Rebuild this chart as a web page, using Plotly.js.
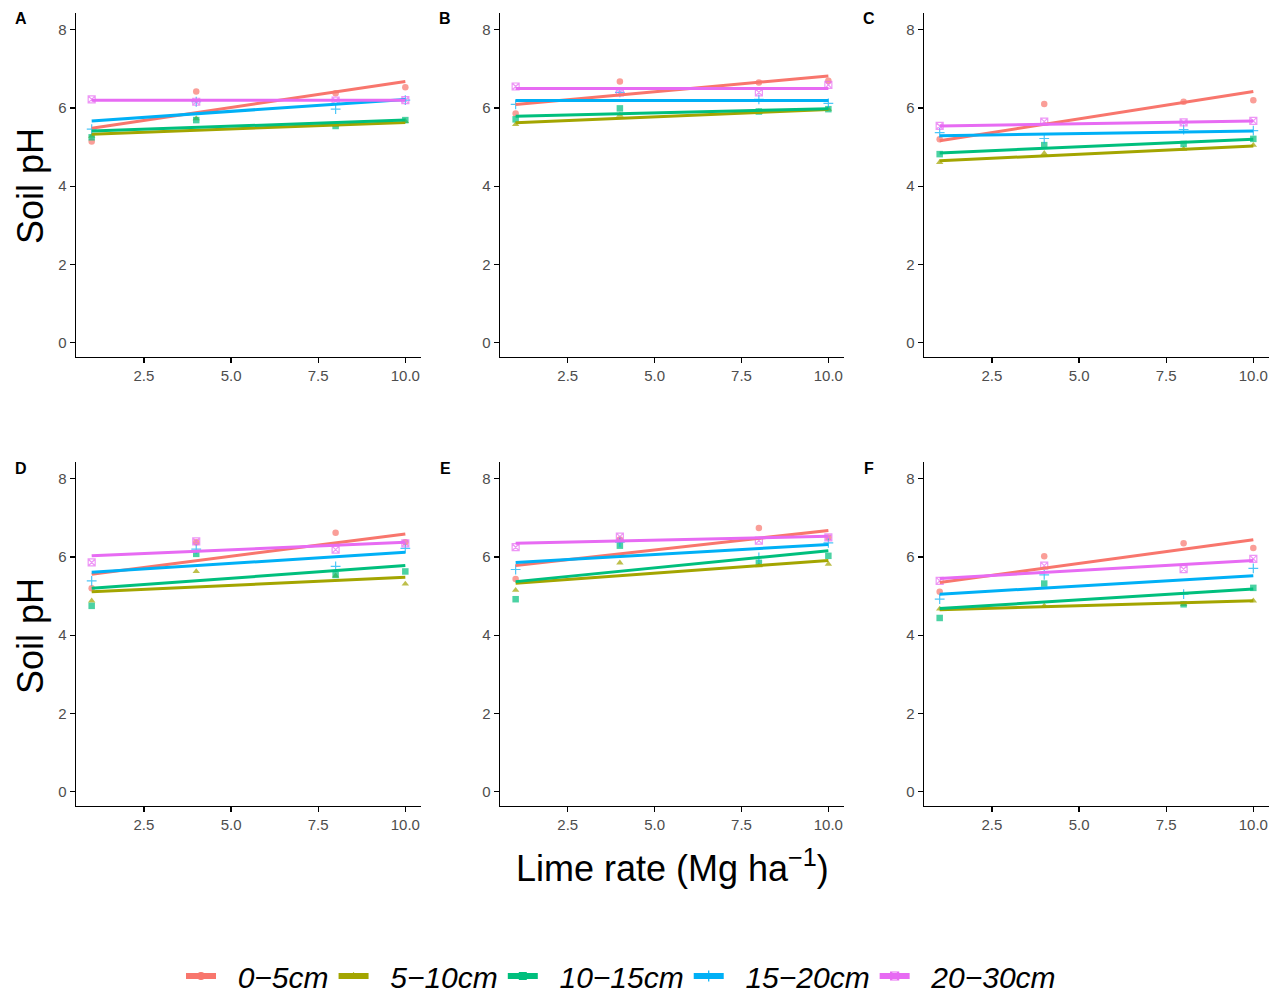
<!DOCTYPE html>
<html>
<head>
<meta charset="utf-8">
<script src="https://cdn.plot.ly/plotly-3.0.1.min.js"></script>
<style>html,body{margin:0;padding:0;background:#fff;}#chart{width:1274px;height:993px;}</style>
</head>
<body>
<div id="chart"></div>
<script>
// ---- data ----
const depths = ['0−5cm', '5−10cm', '10−15cm', '15−20cm', '20−30cm'];
const limeRates = [1, 4, 8, 10];
const fitRates = [1, 10];
const panelLabels = ['A', 'B', 'C', 'D', 'E', 'F'];
const xTickVals = [2.5, 5, 7.5, 10];
const xTickText = ['2.5', '5.0', '7.5', '10.0'];
const yTickVals = [0, 2, 4, 6, 8];

// observed soil pH per depth (rows) at each lime rate
const ptsA = [[5.14, 6.42, 6.38, 6.53], [5.28, 5.73, 5.56, 5.66], [5.25, 5.69, 5.54, 5.69], [5.46, 6.16, 5.97, 6.20], [6.22, 6.16, 6.19, 6.20]];
const ptsB = [[5.86, 6.68, 6.65, 6.70], [5.58, 5.82, 5.91, 5.97], [5.71, 5.99, 5.91, 5.97], [6.09, 6.40, 6.22, 6.12], [6.55, 6.40, 6.40, 6.59]];
const ptsC = [[5.20, 6.10, 6.16, 6.20], [4.61, 4.84, 4.95, 5.05], [4.82, 5.05, 5.08, 5.21], [5.37, 5.22, 5.45, 5.42], [5.54, 5.65, 5.63, 5.67]];
const ptsD = [[5.20, 6.38, 6.62, 6.38], [4.88, 5.63, 5.52, 5.31], [4.75, 6.08, 5.54, 5.63], [5.39, 6.20, 5.76, 6.22], [5.86, 6.40, 6.19, 6.35]];
const ptsE = [[5.44, 6.45, 6.74, 6.50], [5.15, 5.85, 5.78, 5.82], [4.92, 6.29, 5.85, 6.03], [5.68, 6.38, 5.99, 6.36], [6.25, 6.52, 6.42, 6.50]];
const ptsF = [[5.11, 6.02, 6.35, 6.23], [4.67, 4.75, 4.79, 4.88], [4.44, 5.32, 4.79, 5.21], [4.92, 5.54, 5.05, 5.71], [5.39, 5.78, 5.69, 5.95]];

// fitted regression line values at lime rate 1 and 10
const fitA = [[5.48, 6.68], [5.33, 5.63], [5.41, 5.69], [5.67, 6.22], [6.20, 6.20]];
const fitB = [[6.09, 6.82], [5.62, 5.96], [5.79, 5.98], [6.19, 6.19], [6.50, 6.50]];
const fitC = [[5.16, 6.42], [4.65, 5.03], [4.85, 5.20], [5.29, 5.41], [5.54, 5.67]];
const fitD = [[5.56, 6.59], [5.11, 5.48], [5.20, 5.78], [5.61, 6.12], [6.03, 6.38]];
const fitE = [[5.78, 6.68], [5.33, 5.91], [5.37, 6.16], [5.86, 6.32], [6.35, 6.53]];
const fitF = [[5.35, 6.44], [4.65, 4.88], [4.68, 5.18], [5.05, 5.52], [5.45, 5.91]];

// ---- styling ----
const colors = ['#F8766D', '#A3A500', '#00BF7D', '#00B0F6', '#E76BF3'];
const symbols = ['circle', 'triangle-up', 'square', 'cross-thin-open', 'square-x-open'];
const font = 'Liberation Sans, Arial, sans-serif';

const allPts = [ptsA, ptsB, ptsC, ptsD, ptsE, ptsF];
const allFits = [fitA, fitB, fitC, fitD, fitE, fitF];

const traces = [];
function markerFor(i) {
  const open = symbols[i].indexOf('open') >= 0;
  return {symbol: symbols[i], size: open ? 7 : 6.5, color: colors[i],
          line: {color: colors[i], width: open ? 1.2 : 0}};
}
for (let p = 0; p < 6; p++) {
  const ax = p === 0 ? '' : String(p + 1);
  for (let d = 0; d < 5; d++) {
    traces.push({x: limeRates, y: allPts[p][d], xaxis: 'x' + ax, yaxis: 'y' + ax,
      type: 'scatter', mode: 'markers', marker: markerFor(d), opacity: 0.7,
      showlegend: false, hoverinfo: 'x+y', name: depths[d]});
  }
  for (let d = 0; d < 5; d++) {
    traces.push({x: fitRates, y: allFits[p][d], xaxis: 'x' + ax, yaxis: 'y' + ax,
      type: 'scatter', mode: 'lines', line: {color: colors[d], width: 3},
      showlegend: false, hoverinfo: 'skip', name: depths[d]});
  }
}
// legend entries
for (let d = 0; d < 5; d++) {
  traces.push({x: [null], y: [null], type: 'scatter', mode: 'lines+markers',
    name: '\u00a0\u00a0' + depths[d], line: {color: colors[d], width: 6},
    marker: Object.assign(markerFor(d), {size: 8}), showlegend: true});
}

const W = 1274, H = 993;
const colPx = [[76, 421], [500, 844], [924, 1269]];
const rowPx = [[13, 357], [462, 806]];
const tickFont = {size: 15, color: '#4d4d4d', family: font};
const layout = {
  width: W, height: H,
  margin: {l: 0, r: 0, t: 0, b: 0, autoexpand: false},
  paper_bgcolor: '#fff', plot_bgcolor: '#fff',
  font: {family: font, color: '#000'},
  showlegend: true,
  legend: {orientation: 'h', x: 621 / W, xanchor: 'center', y: 1 - 976 / H, yanchor: 'middle',
    font: {size: 30, style: 'italic', color: '#000', family: font}, itemwidth: 30,
    tracegroupgap: 0},
  annotations: [], shapes: []
};
for (let p = 0; p < 6; p++) {
  const ax = p === 0 ? '' : String(p + 1);
  const c = p % 3, r = Math.floor(p / 3);
  layout['xaxis' + ax] = {
    domain: [colPx[c][0] / W, colPx[c][1] / W], anchor: 'y' + ax,
    range: [0.55, 10.45], tickvals: xTickVals, ticktext: xTickText,
    showline: true, linecolor: '#000', linewidth: 1.3, ticks: 'outside', ticklen: 5,
    tickcolor: '#000', tickwidth: 1.2, showgrid: false, zeroline: false,
    tickfont: tickFont
  };
  layout['yaxis' + ax] = {
    domain: [1 - rowPx[r][1] / H, 1 - rowPx[r][0] / H], anchor: 'x' + ax,
    range: [-0.37, 8.43], tickvals: yTickVals,
    showline: true, linecolor: '#000', linewidth: 1.3, ticks: 'outside', ticklen: 5,
    tickcolor: '#000', tickwidth: 1.2, showgrid: false, zeroline: false,
    tickfont: tickFont
  };
  layout.annotations.push({text: '<b>' + panelLabels[p] + '</b>', xref: 'paper', yref: 'paper',
    x: (colPx[c][0] - 55) / W, y: 1 - (rowPx[r][0] + 6) / H, xanchor: 'center', yanchor: 'middle',
    showarrow: false, font: {size: 16, color: '#000', family: font}});
}
layout.annotations.push({text: 'Soil pH', xref: 'paper', yref: 'paper', x: 30 / W, y: 1 - 186 / H,
  textangle: -90, showarrow: false, xanchor: 'center', yanchor: 'middle',
  font: {size: 36, color: '#000', family: font}});
layout.annotations.push({text: 'Soil pH', xref: 'paper', yref: 'paper', x: 30 / W, y: 1 - 636 / H,
  textangle: -90, showarrow: false, xanchor: 'center', yanchor: 'middle',
  font: {size: 36, color: '#000', family: font}});
layout.annotations.push({text: 'Lime rate (Mg ha<sup>−1</sup>)', xref: 'paper', yref: 'paper',
  x: 672 / W, y: 1 - 866 / H, showarrow: false, xanchor: 'center', yanchor: 'middle',
  font: {size: 36, color: '#000', family: font}});

Plotly.newPlot('chart', traces, layout, {displayModeBar: false, staticPlot: true});
</script>
</body>
</html>
